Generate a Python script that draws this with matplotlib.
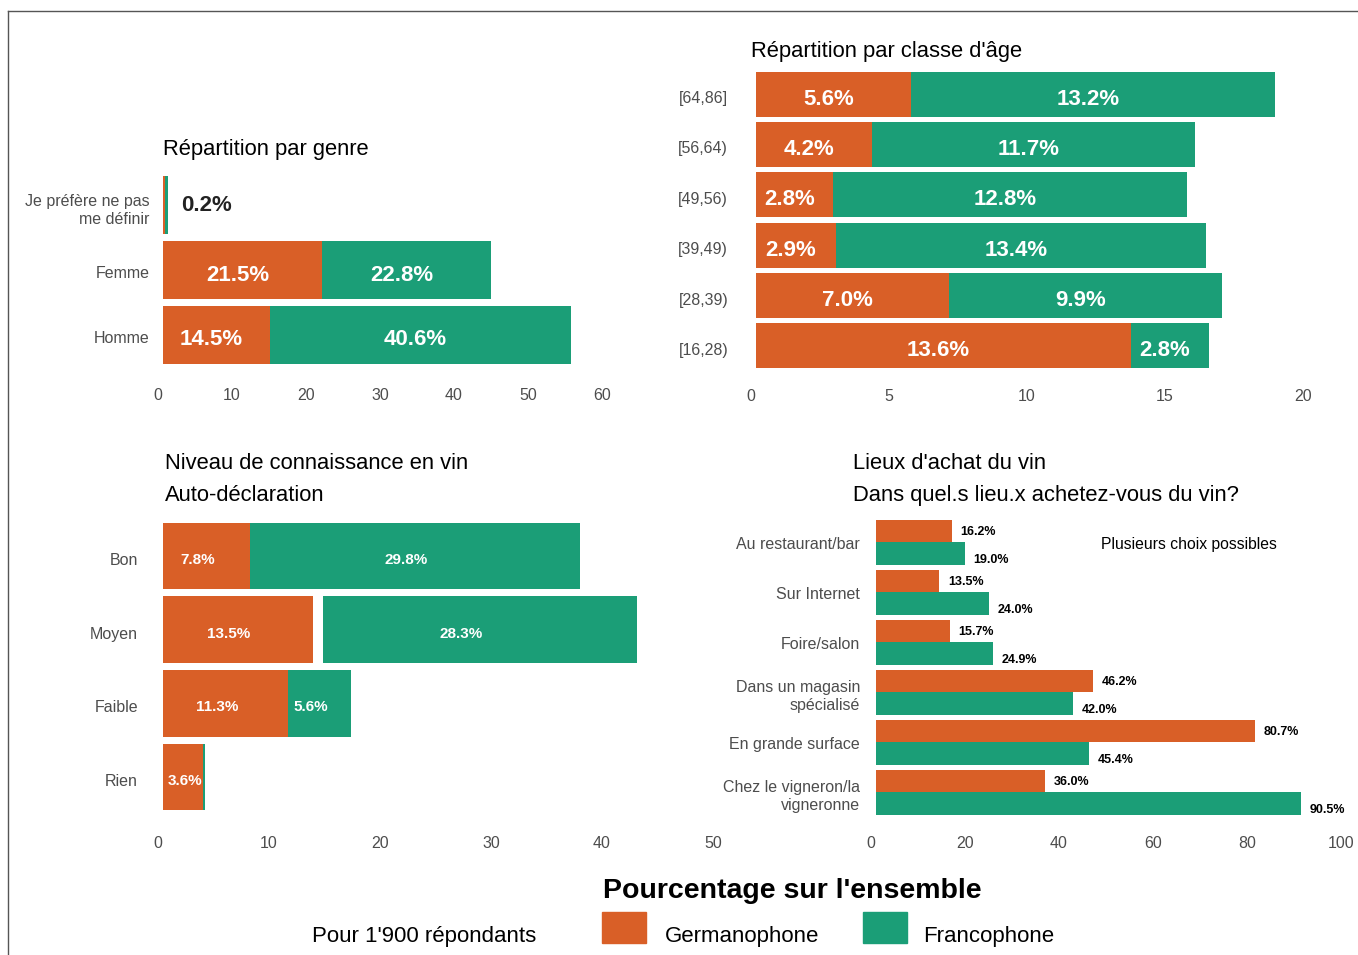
# %% Importacion de librerias
import matplotlib.pyplot as plt
import numpy as np
from matplotlib.lines import Line2D
from matplotlib.patches import Rectangle
from matplotlib.transforms import ScaledTranslation

plt.rcParams['font.family'] = ['Liberation Sans', 'DejaVu Sans']

# %% Donnees (de bas en haut)
genre_cat = ['Homme', 'Femme', 'Je préfère ne pas\nme définir']
genre_ger = [14.5, 21.5, 0.3]
genre_fra = [40.6, 22.8, 0.4]
genre_txt = ['', '', '0.2%']

age_cat = ['[16,28)', '[28,39)', '[39,49)', '[49,56)', '[56,64)', '[64,86]']
age_ger = [13.6, 7.0, 2.9, 2.8, 4.2, 5.6]
age_fra = [2.8, 9.9, 13.4, 12.8, 11.7, 13.2]

conn_cat = ['Rien', 'Faible', 'Moyen', 'Bon']
conn_ger = [3.6, 11.3, 13.5, 7.8]
conn_fra = [0.2, 5.6, 28.3, 29.8]
conn_gap = [0, 0, 0.9, 0]

lieux_cat = ['Chez le vigneron/la\nvigneronne', 'En grande surface',
             'Dans un magasin\nspécialisé', 'Foire/salon', 'Sur Internet',
             'Au restaurant/bar']
lieux_ger = [36.0, 80.7, 46.2, 15.7, 13.5, 16.2]
lieux_fra = [90.5, 45.4, 42.0, 24.9, 24.0, 19.0]

ORANGE = '#D95F27'
GREEN = '#1B9E77'
GREY = '#4D4D4D'
W, H = 1358, 955

fig = plt.figure(figsize=(W / 100, H / 100), dpi=100)


def px_axes(x0, y0, x1, y1):
    return fig.add_axes([x0 / W, 1 - y1 / H, (x1 - x0) / W, (y1 - y0) / H])


def shift(dx, dy):
    # decalage en pixels
    return ScaledTranslation(dx / 100, -dy / 100, fig.dpi_scale_trans)


def style(ax, xlim, xticks, ncat, xpad, ypad, ydy=0, lsp=1.35):
    ax.set_xlim(*xlim)
    ax.set_ylim(-0.5, ncat - 0.5)
    ax.set_xticks(xticks)
    for s in ax.spines.values():
        s.set_visible(False)
    ax.tick_params(axis='x', length=0, pad=xpad, labelsize=11.5, labelcolor=GREY)
    ax.tick_params(axis='y', length=0, pad=ypad, labelsize=11.5, labelcolor=GREY)
    for lab in ax.get_xticklabels():
        lab.set_transform(lab.get_transform() + shift(-5, 0))
    for lab in ax.get_yticklabels():
        lab.set_linespacing(lsp)
        lab.set_transform(lab.get_transform() + shift(0, ydy))
    ax.set_facecolor('none')


def ftext(x, y, s, **kw):
    fig.text(x / W, 1 - (y + 2) / H, s, **kw)


def blabel(ax, x, y, s, size, dx, dy):
    ax.text(x, y, s, ha='center', va='center', fontsize=size, fontweight='bold',
            color='white', transform=ax.transData + shift(dx, dy))


# %% Repartition par genre
ax1 = px_axes(163, 173, 607, 367)
y = np.arange(len(genre_cat))
ax1.barh(y, genre_ger, height=0.9, color=ORANGE)
ax1.barh(y, genre_fra, left=genre_ger, height=0.9, color=GREEN)
for i in range(len(genre_cat)):
    if genre_txt[i]:
        ax1.text(genre_ger[i] + genre_fra[i] + 1.8, i, genre_txt[i], ha='left', va='center',
                 fontsize=16, fontweight='bold', color='#222222')
    else:
        blabel(ax1, genre_ger[i] / 2, i, f'{genre_ger[i]:.1f}%', 16, -5, 5)
        blabel(ax1, genre_ger[i] + genre_fra[i] / 2, i, f'{genre_fra[i]:.1f}%', 16, -5, 5)
ax1.set_yticks(y, genre_cat)
style(ax1, (0, 60), [0, 10, 20, 30, 40, 50, 60], len(genre_cat), 15, 9.5, 2, 1.3)
ftext(163, 147, 'Répartition par genre', fontsize=15.8, va='center')

# %% Repartition par classe d'age
ax2 = px_axes(756, 69, 1308, 371)
y = np.arange(len(age_cat))
ax2.barh(y, age_ger, height=0.9, color=ORANGE)
ax2.barh(y, age_fra, left=age_ger, height=0.9, color=GREEN)
for i in range(len(age_cat)):
    blabel(ax2, age_ger[i] / 2, i, f'{age_ger[i]:.1f}%', 16, -5, 5)
    blabel(ax2, age_ger[i] + age_fra[i] / 2, i, f'{age_fra[i]:.1f}%', 16, -5, 5)
ax2.set_yticks(y, age_cat)
style(ax2, (0, 20), [0, 5, 10, 15, 20], len(age_cat), 13, 20, 3)
ftext(751, 49, "Répartition par classe d'âge", fontsize=15.8, va='center')

# %% Niveau de connaissance
ax3 = px_axes(163, 519, 718, 814)
y = np.arange(len(conn_cat))
left_fra = np.array(conn_ger) + np.array(conn_gap)
ax3.barh(y, conn_ger, height=0.9, color=ORANGE)
ax3.barh(y, conn_fra, left=left_fra, height=0.9, color=GREEN)
for i in range(len(conn_cat)):
    dx = -9 if conn_ger[i] > 5 else 2
    blabel(ax3, conn_ger[i] / 2, i, f'{conn_ger[i]:.1f}%', 11, dx, 4)
    if conn_fra[i] >= 1:
        blabel(ax3, conn_ger[i] + conn_fra[i] / 2, i, f'{conn_fra[i]:.1f}%', 11, -9, 4)
ax3.set_yticks(y, conn_cat)
style(ax3, (0, 50), [0, 10, 20, 30, 40, 50], len(conn_cat), 16, 18, 3)
ftext(165, 461, 'Niveau de connaissance en vin', fontsize=15.8, va='center')
ftext(165, 493, 'Auto-déclaration', fontsize=15.8, va='center')

# %% Lieux d'achat
ax4 = px_axes(876, 517, 1346, 817)
y = np.arange(len(lieux_cat))
ax4.barh(y + 0.225, lieux_ger, height=0.45, color=ORANGE)
ax4.barh(y - 0.225, lieux_fra, height=0.45, color=GREEN)
for i in range(len(lieux_cat)):
    ax4.annotate(f'{lieux_ger[i]:.1f}%', (lieux_ger[i], y[i] + 0.225), xytext=(6, -1),
                 textcoords='offset points', ha='left', va='center',
                 fontsize=9, fontweight='bold', color='black')
    ax4.annotate(f'{lieux_fra[i]:.1f}%', (lieux_fra[i], y[i] - 0.225), xytext=(6, -5),
                 textcoords='offset points', ha='left', va='center',
                 fontsize=9, fontweight='bold', color='black')
ax4.set_yticks(y, lieux_cat)
style(ax4, (0, 100), [0, 20, 40, 60, 80, 100], len(lieux_cat), 14, 11.5, 1, 1.25)
ftext(853, 461, "Lieux d'achat du vin", fontsize=15.8, va='center')
ftext(853, 493, 'Dans quel.s lieu.x achetez-vous du vin?', fontsize=15.8, va='center')
ftext(1101, 542, 'Plusieurs choix possibles', fontsize=11.3, va='center')

# %% Legende et cadre
ftext(603, 889, "Pourcentage sur l'ensemble", fontsize=20.5, fontweight='bold', va='center')
ftext(312, 934, "Pour 1'900 répondants", fontsize=16, va='center')
fig.add_artist(Rectangle((602 / W, 1 - 943 / H), 44 / W, 31 / H, color=ORANGE,
                         transform=fig.transFigure))
ftext(665, 934, 'Germanophone', fontsize=16, va='center')
fig.add_artist(Rectangle((863 / W, 1 - 943 / H), 44 / W, 31 / H, color=GREEN,
                         transform=fig.transFigure))
ftext(923, 934, 'Francophone', fontsize=16, va='center')

fig.add_artist(Line2D([8 / W, 1], [1 - 11 / H, 1 - 11 / H], color='#555555', lw=1))
fig.add_artist(Line2D([8 / W, 8 / W], [1 - 11 / H, 0], color='#555555', lw=1))

plt.savefig('out.png', dpi=100)
